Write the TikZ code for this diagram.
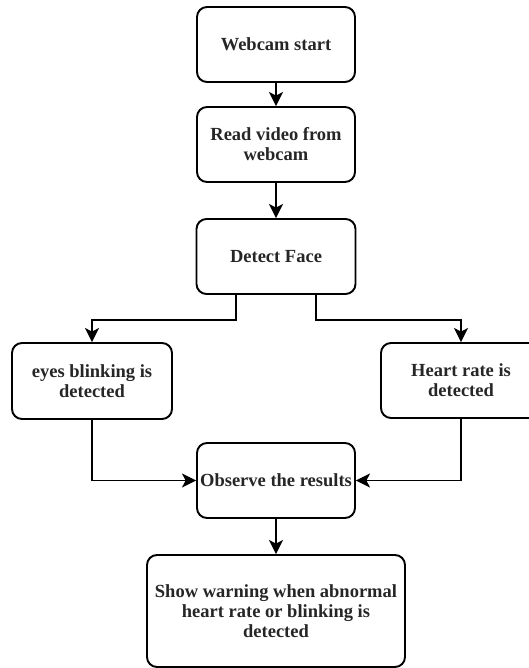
\documentclass[tikz,border=0pt]{standalone}
\usepackage{fontspec}
\setmainfont{Liberation Serif}
\usetikzlibrary{arrows.meta,calc}
\tikzset{
  box/.style={draw=black, line width=1.9pt, rounded corners=10pt, align=center,
    inner sep=0pt, font=\bfseries\fontsize{18.5}{20}\selectfont, text=black!85},
  arr/.style={draw=black, line width=1.9pt, -{Stealth[length=14pt,width=14pt,inset=3.5pt]}},
}
\begin{document}
\begin{tikzpicture}[x=1pt,y=-1pt]
\useasboundingbox (0,0) rectangle (529,668);
\clip (0,0) rectangle (529,668);
\node[box, minimum width=158pt, minimum height=75pt] (start) at (276,44.5) {Webcam start};
\node[box, minimum width=158pt, minimum height=75pt] (read) at (276,144.5) {Read video from\\webcam};
\node[box, minimum width=159pt, minimum height=75pt] (face) at (276,256.5) {Detect Face};
\node[box, minimum width=160pt, minimum height=76pt] (eyes) at (92,381) {eyes blinking is\\detected};
\node[box, minimum width=160pt, minimum height=75pt] (heart) at (461,380.5) {Heart rate is\\detected};
\node[box, minimum width=158pt, minimum height=75pt] (obs) at (276,480.5) {Observe the results};
\node[box, minimum width=258pt, minimum height=112pt] (warn) at (276,611) {Show warning when abnormal\\heart rate or blinking is\\detected};
\coordinate (fl) at ($(face.south west)!0.25!(face.south east)$);
\coordinate (fr) at ($(face.south west)!0.75!(face.south east)$);
\draw[arr] (start) -- (read);
\draw[arr] (read) -- (face);
\draw[arr] (fl) -- ++(0,25) -| (eyes.north);
\draw[arr] (fr) -- ++(0,25) -| (heart.north);
\draw[arr] (eyes.south) |- (obs.west);
\draw[arr] (heart.south) |- (obs.east);
\draw[arr] (obs) -- (warn);
\end{tikzpicture}
\end{document}
